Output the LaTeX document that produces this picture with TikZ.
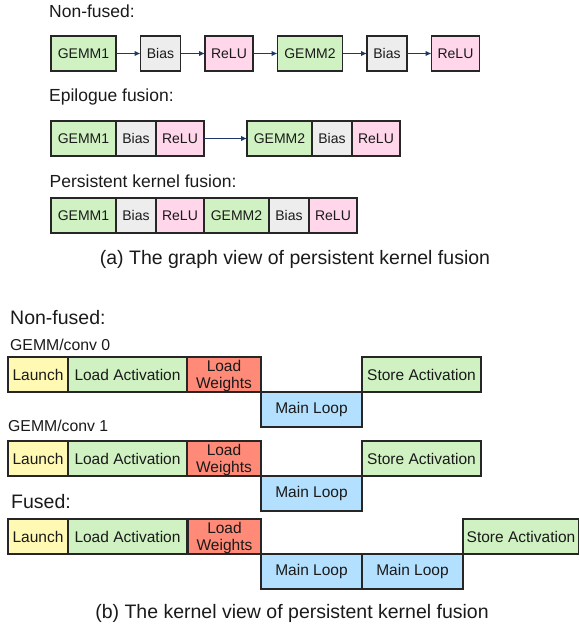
\documentclass[tikz,border=0pt]{standalone}
\usepackage{fontspec}
\setmainfont{Liberation Sans}
\usetikzlibrary{arrows.meta, positioning}
\definecolor{gemmgreen}{HTML}{D0F2C2}
\definecolor{biasgray}{HTML}{EDEDED}
\definecolor{relupink}{HTML}{FFD6EA}
\definecolor{launchyellow}{HTML}{FFF9B3}
\definecolor{weightred}{HTML}{FF8A78}
\definecolor{loopblue}{HTML}{B3E0FF}
\definecolor{arrownavy}{HTML}{1F3864}
\definecolor{edgegray}{HTML}{262626}
\definecolor{textgray}{HTML}{1A1A1A}
\tikzstyle{op} = [rectangle, draw=edgegray, line width=1.2pt, minimum height=35pt, inner sep=0pt, outer sep=0pt, text centered, text=textgray, font={\fontsize{14pt}{16pt}\selectfont}]
\tikzstyle{gemm} = [op, minimum width=65pt, fill=gemmgreen]
\tikzstyle{bias} = [op, minimum width=40pt, fill=biasgray]
\tikzstyle{relu} = [op, minimum width=48pt, fill=relupink]
\tikzstyle{stage} = [rectangle, draw=edgegray, line width=1.2pt, minimum height=35pt, inner sep=0pt, outer sep=0pt, align=center, text=textgray, font={\fontsize{15.5pt}{17pt}\selectfont}]
\tikzstyle{launch} = [stage, minimum width=60pt, fill=launchyellow]
\tikzstyle{loadact} = [stage, minimum width=119pt, fill=gemmgreen]
\tikzstyle{loadw} = [stage, minimum width=74pt, fill=weightred, text depth=0pt]
\tikzstyle{mainloop} = [stage, minimum width=101pt, fill=loopblue]
\tikzstyle{storeact} = [stage, minimum width=119pt, fill=gemmgreen]
\tikzstyle{arrow} = [line width=1.6pt, draw=arrownavy, -{Latex[length=6pt,width=5.5pt]}]
\tikzstyle{heading} = [anchor=base west, inner sep=0pt, text=textgray, font={\fontsize{17.5pt}{20pt}\selectfont}]
\tikzstyle{bigheading} = [heading, font={\fontsize{19.5pt}{22pt}\selectfont}]
\tikzstyle{kernellabel} = [heading, font={\fontsize{15.8pt}{18pt}\selectfont}]
\tikzstyle{caption} = [anchor=base, inner sep=0pt, text=textgray, font={\fontsize{19.5pt}{22pt}\selectfont}]

\begin{document}
\begin{tikzpicture}[x=1pt, y=1pt, node distance=24.5pt]
    \useasboundingbox (0,0) rectangle (579,-630);

    % (a) graph view
    \node (hdnonfused) [heading] at (49,-17.3) {Non-fused:};
    \node (nfgemmone) [gemm, anchor=north west] at (51,-36) {GEMM1};
    \node (nfbiasone) [bias, right=of nfgemmone] {Bias};
    \node (nfreluone) [relu, right=of nfbiasone] {ReLU};
    \node (nfgemmtwo) [gemm, right=of nfreluone] {GEMM2};
    \node (nfbiastwo) [bias, right=of nfgemmtwo] {Bias};
    \node (nfrelutwo) [relu, right=of nfbiastwo] {ReLU};
    \draw [arrow] (nfgemmone) -- (nfbiasone);
    \draw [arrow] (nfbiasone) -- (nfreluone);
    \draw [arrow] (nfreluone) -- (nfgemmtwo);
    \draw [arrow] (nfgemmtwo) -- (nfbiastwo);
    \draw [arrow] (nfbiastwo) -- (nfrelutwo);

    \node (hdepilogue) [heading] at (49,-101.7) {Epilogue fusion:};
    \node (epgemmone) [gemm, anchor=north west] at (51,-121) {GEMM1};
    \node (epbiasone) [bias, right=0pt of epgemmone] {Bias};
    \node (epreluone) [relu, right=0pt of epbiasone] {ReLU};
    \node (epgemmtwo) [gemm, right=43pt of epreluone] {GEMM2};
    \node (epbiastwo) [bias, right=0pt of epgemmtwo] {Bias};
    \node (eprelutwo) [relu, right=0pt of epbiastwo] {ReLU};
    \draw [arrow] (epreluone) -- (epgemmtwo);

    \node (hdpersistent) [heading] at (49.5,-187.7) {Persistent kernel fusion:};
    \node (pkgemmone) [gemm, anchor=north west] at (51,-198) {GEMM1};
    \node (pkbiasone) [bias, right=0pt of pkgemmone] {Bias};
    \node (pkreluone) [relu, right=0pt of pkbiasone] {ReLU};
    \node (pkgemmtwo) [gemm, right=0pt of pkreluone] {GEMM2};
    \node (pkbiastwo) [bias, right=0pt of pkgemmtwo] {Bias};
    \node (pkrelutwo) [relu, right=0pt of pkbiastwo] {ReLU};

    \node (capgraph) [caption] at (295,-264.5) {(a) The graph view of persistent kernel fusion};

    % (b) kernel view
    \node (hdkernelnf) [bigheading] at (10,-324) {Non-fused:};
    \node (lbconvzero) [kernellabel] at (10,-350) {GEMM/conv 0};
    \node (czlaunch) [launch, anchor=north west] at (8,-357) {Launch};
    \node (czloadact) [loadact, right=0pt of czlaunch] {Load Activation};
    \node (czloadw) [loadw, right=0pt of czloadact] {Load\\Weights};
    \node (czloop) [mainloop, below right=0pt and 0pt of czloadw] {Main Loop};
    \node (czstore) [storeact, above right=0pt and 0pt of czloop] {Store Activation};

    \node (lbconvone) [kernellabel] at (8,-431.7) {GEMM/conv 1};
    \node (colaunch) [launch, anchor=north west] at (8,-441) {Launch};
    \node (coloadact) [loadact, right=0pt of colaunch] {Load Activation};
    \node (coloadw) [loadw, right=0pt of coloadact] {Load\\Weights};
    \node (coloop) [mainloop, below right=0pt and 0pt of coloadw] {Main Loop};
    \node (costore) [storeact, above right=0pt and 0pt of coloop] {Store Activation};

    \node (hdfused) [bigheading] at (11,-508.3) {Fused:};
    \node (fulaunch) [launch, anchor=north west] at (8,-519) {Launch};
    \node (fuloadact) [loadact, right=0pt of fulaunch] {Load Activation};
    \node (fuloadw) [loadw, right=0pt of fuloadact] {Load\\Weights};
    \node (fuloop) [mainloop, below right=0pt and 0pt of fuloadw] {Main Loop};
    \node (fuloadwtwo) [loadw, minimum width=73pt, above left=0pt and 0pt of fuloop] {Load\\Weights};
    \node (fulooptwo) [mainloop, right=0pt of fuloop] {Main Loop};
    \node (fustore) [storeact, minimum width=116pt, above right=0pt and 0pt of fulooptwo] {Store Activation};

    \node (capkernel) [caption] at (292,-618) {(b) The kernel view of persistent kernel fusion};
\end{tikzpicture}
\end{document}
